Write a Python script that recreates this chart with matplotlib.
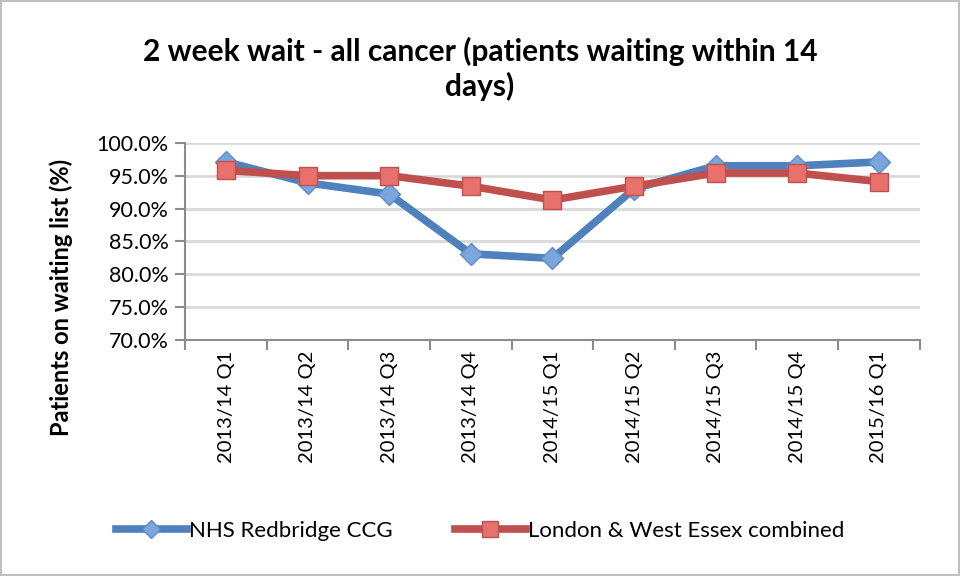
import numpy as np
import matplotlib.pyplot as plt
from matplotlib.ticker import FuncFormatter, FixedLocator

plt.rcParams['font.family'] = ['Lato', 'DejaVu Sans']

# данные с графика
quarters = ['2013/14 Q1', '2013/14 Q2', '2013/14 Q3', '2013/14 Q4', '2014/15 Q1',
            '2014/15 Q2', '2014/15 Q3', '2014/15 Q4', '2015/16 Q1']
redbridge = [97.1, 93.9, 92.2, 83.1, 82.4, 93.0, 96.5, 96.5, 97.1]
london_essex = [95.8, 95.0, 95.0, 93.4, 91.3, 93.4, 95.4, 95.4, 94.1]

fig = plt.figure(figsize=(9.6, 5.76), dpi=100)
fig.patch.set_edgecolor('#bfbfbf')
fig.patch.set_linewidth(1.5)
ax = fig.add_axes([0.193, 0.41, 0.765, 0.342])

x = np.arange(len(quarters))
ax.plot(x, redbridge, color='#4f81bd', lw=5.5, marker='D', markersize=11,
        markerfacecolor='#7aa6dc', markeredgecolor='#5b8ccc', markeredgewidth=1,
        label='NHS Redbridge CCG', zorder=3)
ax.plot(x, london_essex, color='#c0504d', lw=5.5, marker='s', markersize=13,
        markerfacecolor='#e8716c', markeredgecolor='#c0504d', markeredgewidth=1,
        label='London & West Essex combined', zorder=4)

ax.set_xlim(-0.5, len(quarters) - 0.5)
ax.set_ylim(70, 100)
ax.set_yticks(np.arange(70, 100.1, 5))
ax.yaxis.set_major_formatter(FuncFormatter(lambda v, p: f'{v:.1f}%'))
ax.grid(axis='y', color='#d9d9d9', lw=2)
ax.set_axisbelow(True)

ax.set_xticks(x)
ax.set_xticklabels(quarters, rotation=90)
ax.xaxis.set_minor_locator(FixedLocator(np.arange(-0.5, len(quarters), 1)))
ax.tick_params(axis='x', which='major', length=0, pad=8, labelsize=14.5)
ax.tick_params(axis='x', which='minor', length=7, width=1.5, color='#8c8c8c')
ax.tick_params(axis='y', length=7, width=1.5, color='#8c8c8c', labelsize=15.5, pad=5)

for s in ['top', 'right']:
    ax.spines[s].set_visible(False)
for s in ['left', 'bottom']:
    ax.spines[s].set_color('#8c8c8c')
    ax.spines[s].set_linewidth(1.5)

# подпись оси y центрирована по всей области графика вместе с подписями x
ax.set_ylabel('Patients on waiting list (%)', fontsize=17, fontweight='bold')
ax.yaxis.set_label_coords(-0.153, 0.213)
fig.text(0.5, 0.88, '2 week wait - all cancer (patients waiting within 14\ndays)',
         ha='center', va='center', fontsize=21.5, fontweight='bold', linespacing=1.25)

fig.legend(loc='center', bbox_to_anchor=(0.5, 0.078), ncol=2, frameon=False,
           fontsize=16, handlelength=3.2, columnspacing=2.8, handletextpad=0.1,
           markerscale=0.85)

fig.savefig('out.png', dpi=100, edgecolor=fig.get_edgecolor())
